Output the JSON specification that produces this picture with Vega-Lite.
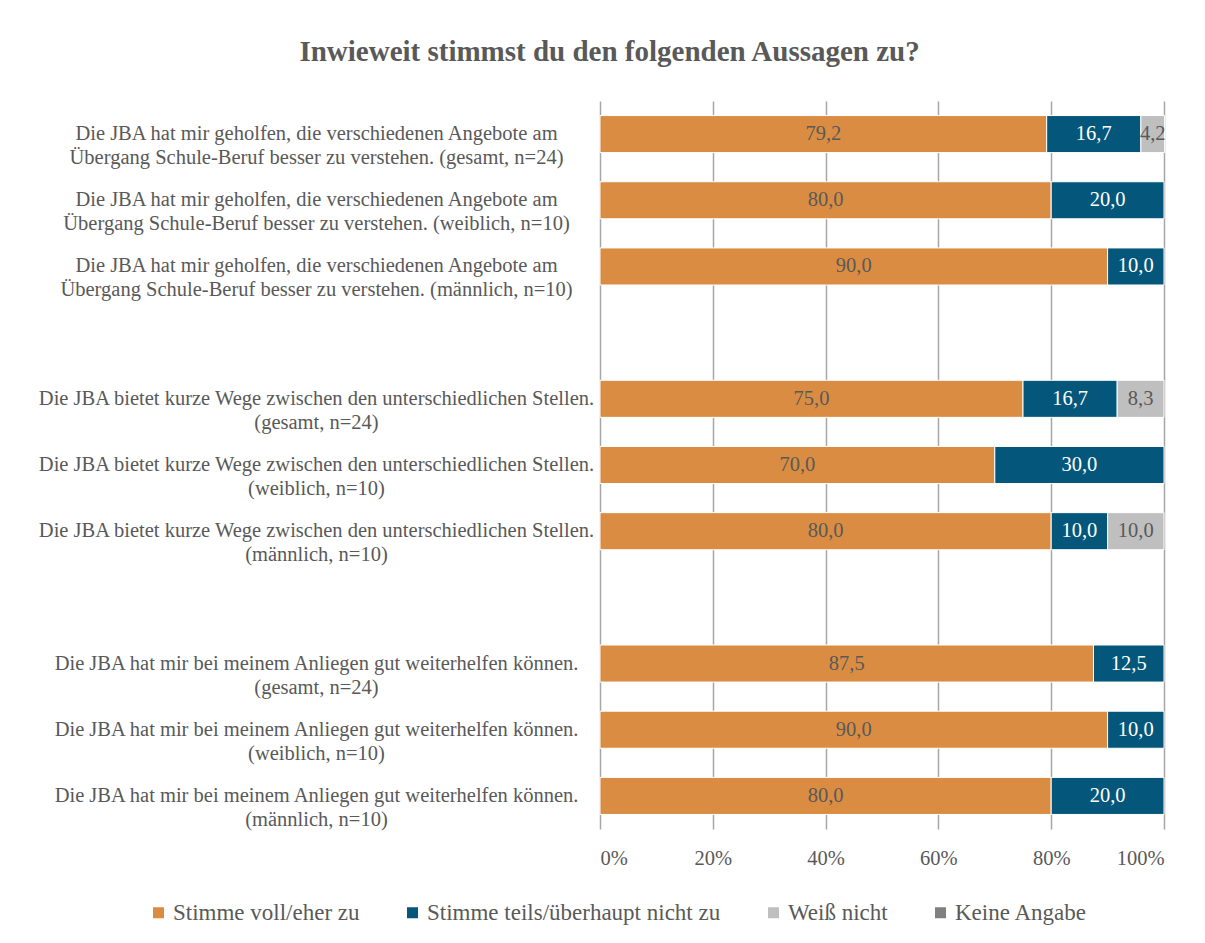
{
  "$schema": "https://vega.github.io/schema/vega-lite/v6.json",
  "width": 564,
  "height": 728,
  "padding": {"top": 38, "left": 37, "right": 10, "bottom": 5},
  "background": "white",
  "config": {
    "font": "Liberation Serif",
    "view": {"stroke": null},
    "locale": {"number": {"decimal": ",", "thousands": ".", "grouping": [3], "currency": ["", " €"]}}
  },
  "title": {
    "text": "Inwieweit stimmst du den folgenden Aussagen zu?",
    "fontSize": 29,
    "fontWeight": "bold",
    "color": "#595959",
    "anchor": "middle",
    "frame": "bounds",
    "dx": 8,
    "offset": 34
  },
  "data": {
    "values": [
      {"Aussage": "Die JBA hat mir geholfen, die verschiedenen Angebote am|Übergang Schule-Beruf besser zu verstehen. (gesamt, n=24)", "Antwort": "Stimme voll/eher zu", "Anteil": 79.2},
      {"Aussage": "Die JBA hat mir geholfen, die verschiedenen Angebote am|Übergang Schule-Beruf besser zu verstehen. (gesamt, n=24)", "Antwort": "Stimme teils/überhaupt nicht zu", "Anteil": 16.7},
      {"Aussage": "Die JBA hat mir geholfen, die verschiedenen Angebote am|Übergang Schule-Beruf besser zu verstehen. (gesamt, n=24)", "Antwort": "Weiß nicht", "Anteil": 4.2},
      {"Aussage": "Die JBA hat mir geholfen, die verschiedenen Angebote am|Übergang Schule-Beruf besser zu verstehen. (weiblich, n=10)", "Antwort": "Stimme voll/eher zu", "Anteil": 80.0},
      {"Aussage": "Die JBA hat mir geholfen, die verschiedenen Angebote am|Übergang Schule-Beruf besser zu verstehen. (weiblich, n=10)", "Antwort": "Stimme teils/überhaupt nicht zu", "Anteil": 20.0},
      {"Aussage": "Die JBA hat mir geholfen, die verschiedenen Angebote am|Übergang Schule-Beruf besser zu verstehen. (männlich, n=10)", "Antwort": "Stimme voll/eher zu", "Anteil": 90.0},
      {"Aussage": "Die JBA hat mir geholfen, die verschiedenen Angebote am|Übergang Schule-Beruf besser zu verstehen. (männlich, n=10)", "Antwort": "Stimme teils/überhaupt nicht zu", "Anteil": 10.0},
      {"Aussage": "Die JBA bietet kurze Wege zwischen den unterschiedlichen Stellen.|(gesamt, n=24)", "Antwort": "Stimme voll/eher zu", "Anteil": 75.0},
      {"Aussage": "Die JBA bietet kurze Wege zwischen den unterschiedlichen Stellen.|(gesamt, n=24)", "Antwort": "Stimme teils/überhaupt nicht zu", "Anteil": 16.7},
      {"Aussage": "Die JBA bietet kurze Wege zwischen den unterschiedlichen Stellen.|(gesamt, n=24)", "Antwort": "Weiß nicht", "Anteil": 8.3},
      {"Aussage": "Die JBA bietet kurze Wege zwischen den unterschiedlichen Stellen.|(weiblich, n=10)", "Antwort": "Stimme voll/eher zu", "Anteil": 70.0},
      {"Aussage": "Die JBA bietet kurze Wege zwischen den unterschiedlichen Stellen.|(weiblich, n=10)", "Antwort": "Stimme teils/überhaupt nicht zu", "Anteil": 30.0},
      {"Aussage": "Die JBA bietet kurze Wege zwischen den unterschiedlichen Stellen.|(männlich, n=10)", "Antwort": "Stimme voll/eher zu", "Anteil": 80.0},
      {"Aussage": "Die JBA bietet kurze Wege zwischen den unterschiedlichen Stellen.|(männlich, n=10)", "Antwort": "Stimme teils/überhaupt nicht zu", "Anteil": 10.0},
      {"Aussage": "Die JBA bietet kurze Wege zwischen den unterschiedlichen Stellen.|(männlich, n=10)", "Antwort": "Weiß nicht", "Anteil": 10.0},
      {"Aussage": "Die JBA hat mir bei meinem Anliegen gut weiterhelfen können.|(gesamt, n=24)", "Antwort": "Stimme voll/eher zu", "Anteil": 87.5},
      {"Aussage": "Die JBA hat mir bei meinem Anliegen gut weiterhelfen können.|(gesamt, n=24)", "Antwort": "Stimme teils/überhaupt nicht zu", "Anteil": 12.5},
      {"Aussage": "Die JBA hat mir bei meinem Anliegen gut weiterhelfen können.|(weiblich, n=10)", "Antwort": "Stimme voll/eher zu", "Anteil": 90.0},
      {"Aussage": "Die JBA hat mir bei meinem Anliegen gut weiterhelfen können.|(weiblich, n=10)", "Antwort": "Stimme teils/überhaupt nicht zu", "Anteil": 10.0},
      {"Aussage": "Die JBA hat mir bei meinem Anliegen gut weiterhelfen können.|(männlich, n=10)", "Antwort": "Stimme voll/eher zu", "Anteil": 80.0},
      {"Aussage": "Die JBA hat mir bei meinem Anliegen gut weiterhelfen können.|(männlich, n=10)", "Antwort": "Stimme teils/überhaupt nicht zu", "Anteil": 20.0}
    ]
  },
  "transform": [
    {"calculate": "indexof(['Stimme voll/eher zu','Stimme teils/überhaupt nicht zu','Weiß nicht','Keine Angabe'], datum.Antwort)", "as": "rang"}
  ],
  "encoding": {
    "y": {
      "field": "Aussage",
      "type": "nominal",
      "scale": {
        "domain": [
          "Die JBA hat mir geholfen, die verschiedenen Angebote am|Übergang Schule-Beruf besser zu verstehen. (gesamt, n=24)",
          "Die JBA hat mir geholfen, die verschiedenen Angebote am|Übergang Schule-Beruf besser zu verstehen. (weiblich, n=10)",
          "Die JBA hat mir geholfen, die verschiedenen Angebote am|Übergang Schule-Beruf besser zu verstehen. (männlich, n=10)",
          "gap1",
          "Die JBA bietet kurze Wege zwischen den unterschiedlichen Stellen.|(gesamt, n=24)",
          "Die JBA bietet kurze Wege zwischen den unterschiedlichen Stellen.|(weiblich, n=10)",
          "Die JBA bietet kurze Wege zwischen den unterschiedlichen Stellen.|(männlich, n=10)",
          "gap2",
          "Die JBA hat mir bei meinem Anliegen gut weiterhelfen können.|(gesamt, n=24)",
          "Die JBA hat mir bei meinem Anliegen gut weiterhelfen können.|(weiblich, n=10)",
          "Die JBA hat mir bei meinem Anliegen gut weiterhelfen können.|(männlich, n=10)"
        ],
        "paddingInner": 0.44,
        "paddingOuter": 0.22
      },
      "axis": {
        "title": null,
        "labelExpr": "indexof(datum.label, 'gap') === 0 ? '' : split(datum.label, '|')",
        "labelAlign": "center",
        "labelBaseline": "middle",
        "labelPadding": 284,
        "labelLimit": 800,
        "labelLineHeight": 24,
        "labelFontSize": 20.5,
        "labelColor": "#595959",
        "ticks": false,
        "tickSize": 0,
        "domain": false,
        "grid": false
      }
    },
    "x": {
      "field": "Anteil",
      "type": "quantitative",
      "stack": "zero",
      "scale": {"domain": [0, 100], "nice": false},
      "axis": {
        "title": null,
        "values": [0, 20, 40, 60, 80, 100],
        "labelExpr": "datum.value + '%'",
        "ticks": false,
        "tickSize": 0,
        "domain": false,
        "grid": true,
        "gridColor": "#A6A6A6",
        "gridWidth": 1.5,
        "labelPadding": 19,
        "labelFontSize": 20.5,
        "labelColor": "#595959"
      }
    },
    "order": {"field": "rang", "type": "quantitative"}
  },
  "layer": [
    {
      "mark": {"type": "bar", "stroke": "white", "strokeWidth": 1},
      "encoding": {
        "color": {
          "field": "Antwort",
          "type": "nominal",
          "scale": {
            "domain": ["Stimme voll/eher zu", "Stimme teils/überhaupt nicht zu", "Weiß nicht", "Keine Angabe"],
            "range": ["#DA8D42", "#04577A", "#BFBFBF", "#808080"]
          },
          "legend": {
            "title": null,
            "orient": "none",
            "legendX": -453,
            "legendY": 800,
            "direction": "horizontal",
            "columns": 4,
            "columnPadding": 41,
            "padding": 0,
            "symbolType": "square",
            "symbolSize": 121,
            "symbolStrokeWidth": 0,
            "labelOffset": 3,
            "labelFontSize": 23,
            "labelColor": "#595959",
            "labelLimit": 400
          }
        }
      }
    },
    {
      "mark": {"type": "text", "fontSize": 20.5, "baseline": "middle", "align": "center"},
      "encoding": {
        "x": {"field": "Anteil", "type": "quantitative", "stack": "zero", "bandPosition": 0.5},
        "detail": {"field": "Antwort", "type": "nominal"},
        "text": {"field": "Anteil", "type": "quantitative", "format": ".1f"},
        "color": {
          "condition": {"test": "datum.Antwort === 'Stimme teils/überhaupt nicht zu'", "value": "white"},
          "value": "#595959"
        }
      }
    }
  ]
}
